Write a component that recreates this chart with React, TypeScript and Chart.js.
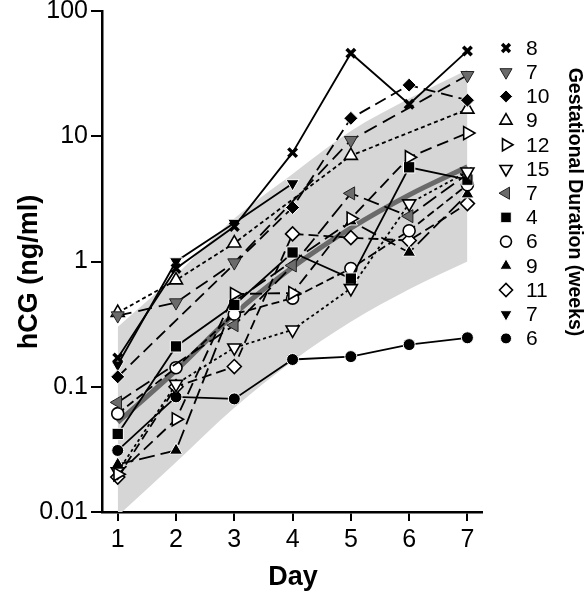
import React, { useEffect, useRef } from "react";
import { Chart, registerables } from "chart.js";
import { drawPoint } from "chart.js/helpers";

Chart.register(...registerables);

// ---- data ----
const days = [1, 2, 3, 4, 5, 6, 7];
const yTickValues = [0.01, 0.1, 1, 10, 100];

const s8cross = [0.17, 0.88, 1.9, 7.4, 46, 18, 48];
const s7grayDown = [0.37, 0.47, 0.98, null, 9.3, null, 30.7];
const s10diamond = [0.12, null, null, 2.7, 13.9, 25.6, 19.4];
const s9openUp = [0.39, 0.71, 1.4, null, 7.0, null, 16.4];
const s12openRight = [0.02, 0.055, 0.55, 0.56, 2.2, 6.8, 10.6];
const s15openDown = [0.021, 0.105, 0.205, 0.285, 0.61, 2.9, 5.2];
const s7grayLeft = [0.075, null, 0.31, 0.93, 3.5, 2.3, 5.0];
const s4square = [0.042, 0.21, 0.45, 1.18, 0.73, 5.65, 4.5];
const s6openCircle = [0.061, 0.142, 0.38, 0.51, 0.88, 1.76, 4.1];
const s9filledUp = [0.024, 0.031, 0.48, null, 2.1, 1.18, 3.45];
const s11openDiamond = [0.019, 0.1, 0.145, 1.66, 1.55, 1.47, 2.9];
const s7blackDown = [0.15, 1.0, 2.03, 4.2, null, null, null];
const s6filledCircle = [0.031, 0.083, 0.08, 0.165, 0.174, 0.217, 0.246];

const meanLine = [0.052, 0.135, 0.38, 0.9, 1.85, 3.4, 5.7];
const bandUpper = [0.3, 0.78, 2.2, 5.0, 11, 20, 34];
const bandLower = [0.0093, 0.025, 0.068, 0.16, 0.33, 0.6, 1.0];

const legendWeeks = ["8", "7", "10", "9", "12", "15", "7", "4", "6", "9", "11", "7", "6"];

// ---- styles ----
const BLACK = "#000000";
const GRAY = "#6b6b6b";
const WHITE = "#ffffff";

type Sty = {
  pointStyle: string;
  rotation: number;
  radius: number;
  fill: string;
  stroke: string;
  bw: number;
  dash: number[];
};

const styles: Sty[] = [
  { pointStyle: "crossRot", rotation: 0, radius: 6, fill: BLACK, stroke: BLACK, bw: 3.5, dash: [] },
  { pointStyle: "triangle", rotation: 180, radius: 7.5, fill: GRAY, stroke: "#222", bw: 1, dash: [14, 7] },
  { pointStyle: "rectRot", rotation: 0, radius: 7, fill: BLACK, stroke: WHITE, bw: 1, dash: [12, 6] },
  { pointStyle: "triangle", rotation: 0, radius: 7.5, fill: WHITE, stroke: BLACK, bw: 1.6, dash: [4, 3] },
  { pointStyle: "triangle", rotation: 90, radius: 7.5, fill: WHITE, stroke: BLACK, bw: 1.6, dash: [12, 6] },
  { pointStyle: "triangle", rotation: 180, radius: 7.5, fill: WHITE, stroke: BLACK, bw: 1.6, dash: [3, 3] },
  { pointStyle: "triangle", rotation: 270, radius: 7.5, fill: GRAY, stroke: "#222", bw: 1, dash: [16, 6] },
  { pointStyle: "rect", rotation: 0, radius: 8, fill: BLACK, stroke: WHITE, bw: 1, dash: [] },
  { pointStyle: "circle", rotation: 0, radius: 6, fill: WHITE, stroke: BLACK, bw: 1.6, dash: [8, 4] },
  { pointStyle: "triangle", rotation: 0, radius: 7.5, fill: BLACK, stroke: WHITE, bw: 1, dash: [16, 6] },
  { pointStyle: "rectRot", rotation: 0, radius: 7, fill: WHITE, stroke: BLACK, bw: 1.6, dash: [10, 5] },
  { pointStyle: "triangle", rotation: 180, radius: 7.5, fill: BLACK, stroke: WHITE, bw: 1, dash: [] },
  { pointStyle: "circle", rotation: 0, radius: 6, fill: BLACK, stroke: WHITE, bw: 1, dash: [] },
];

const seriesData = [
  s8cross, s7grayDown, s10diamond, s9openUp, s12openRight, s15openDown, s7grayLeft,
  s4square, s6openCircle, s9filledUp, s11openDiamond, s7blackDown, s6filledCircle,
];

const FONT = "'Liberation Sans', Arial, Helvetica, sans-serif";

const textPlugin = {
  id: "customText",
  afterDraw(chart: any) {
    const ctx = chart.ctx as CanvasRenderingContext2D;
    ctx.save();
    // y title
    ctx.fillStyle = BLACK;
    ctx.font = `bold 27px ${FONT}`;
    ctx.textAlign = "center";
    ctx.textBaseline = "middle";
    ctx.save();
    ctx.translate(30, 272);
    ctx.rotate(-Math.PI / 2);
    ctx.fillText("hCG (ng/ml)", 0, 0);
    ctx.restore();
    // x title
    ctx.fillText("Day", 293, 578);
    // legend
    const x0 = 506;
    for (let i = 0; i < legendWeeks.length; i++) {
      const y = 48 + 24.2 * i;
      const st = styles[i];
      ctx.save();
      ctx.setLineDash([]);
      ctx.fillStyle = st.fill;
      ctx.strokeStyle = st.stroke;
      ctx.lineWidth = st.bw;
      drawPoint(ctx, { pointStyle: st.pointStyle as any, rotation: st.rotation, radius: st.radius - 0.5, borderWidth: st.bw }, x0, y);
      ctx.restore();
      ctx.fillStyle = BLACK;
      ctx.font = `21px ${FONT}`;
      ctx.textAlign = "left";
      ctx.textBaseline = "middle";
      ctx.fillText(legendWeeks[i], 526, y + 1);
    }
    // legend title
    ctx.save();
    ctx.font = `bold 19.5px ${FONT}`;
    ctx.textAlign = "center";
    ctx.textBaseline = "middle";
    ctx.translate(574, 202);
    ctx.rotate(Math.PI / 2);
    ctx.fillText("Gestational Duration (weeks)", 0, 0);
    ctx.restore();
    ctx.restore();
  },
};

export default function App() {
  const ref = useRef<HTMLCanvasElement | null>(null);
  useEffect(() => {
    document.body.style.margin = "0";
    if (!ref.current) return;
    const toPts = (arr: (number | null)[]) => arr.map((v, i) => ({ x: days[i], y: v }));

    const datasets: any[] = [];
    datasets.push({
      label: "bandUpper",
      data: toPts(bandUpper),
      borderWidth: 0,
      pointRadius: 0,
      backgroundColor: "#d6d6d6",
      fill: "+1",
      cubicInterpolationMode: "monotone",
      order: 100,
    });
    datasets.push({
      label: "bandLower",
      data: toPts(bandLower),
      borderWidth: 0,
      pointRadius: 0,
      fill: false,
      cubicInterpolationMode: "monotone",
      order: 99,
    });
    datasets.push({
      label: "mean",
      data: toPts(meanLine),
      borderWidth: 5,
      borderColor: "#6a6a6a",
      pointRadius: 0,
      fill: false,
      cubicInterpolationMode: "monotone",
      order: 50,
    });
    seriesData.forEach((arr, i) => {
      const st = styles[i];
      datasets.push({
        label: legendWeeks[i],
        data: toPts(arr),
        spanGaps: true,
        borderColor: BLACK,
        borderWidth: 1.8,
        borderDash: st.dash,
        fill: false,
        tension: 0,
        pointStyle: st.pointStyle,
        rotation: st.rotation,
        pointRadius: st.radius,
        pointBackgroundColor: st.fill,
        pointBorderColor: st.stroke,
        pointBorderWidth: st.bw,
        order: 0,
        clip: false,
      });
    });

    const chart = new Chart(ref.current, {
      type: "line",
      data: { datasets },
      plugins: [textPlugin],
      options: {
        animation: false,
        responsive: false,
        events: [],
        layout: { padding: { top: 11, right: 106, left: 0, bottom: 0 } },
        plugins: { legend: { display: false }, tooltip: { enabled: false } },
        scales: {
          x: {
            type: "linear",
            min: 0.73,
            max: 7.25,
            afterBuildTicks: (s: any) => {
              s.ticks = days.map((v) => ({ value: v }));
            },
            afterFit: (s: any) => {
              s.height = 88;
              s.paddingLeft = 0;
              s.paddingRight = 0;
            },
            grid: { drawOnChartArea: false, drawTicks: true, tickLength: 9, color: BLACK, lineWidth: 2 },
            border: { display: true, color: BLACK, width: 2.5 },
            ticks: { color: BLACK, font: { family: FONT, size: 25 }, padding: 4, maxRotation: 0, autoSkip: false },
          },
          y: {
            type: "logarithmic",
            min: 0.01,
            max: 100,
            afterBuildTicks: (s: any) => {
              s.ticks = yTickValues.map((v) => ({ value: v }));
            },
            afterFit: (s: any) => {
              s.width = 102;
              s.paddingTop = 0;
              s.paddingBottom = 0;
            },
            grid: { drawOnChartArea: false, drawTicks: true, tickLength: 11, color: BLACK, lineWidth: 2 },
            border: { display: true, color: BLACK, width: 2.5 },
            ticks: {
              color: BLACK,
              font: { family: FONT, size: 25 },
              padding: 3,
              autoSkip: false,
              callback: (v: any) => String(v),
            },
          },
        },
      } as any,
    });
    return () => chart.destroy();
  }, []);
  return <canvas ref={ref} width={588} height={600} style={{ display: "block", width: 588, height: 600 }} />;
}
